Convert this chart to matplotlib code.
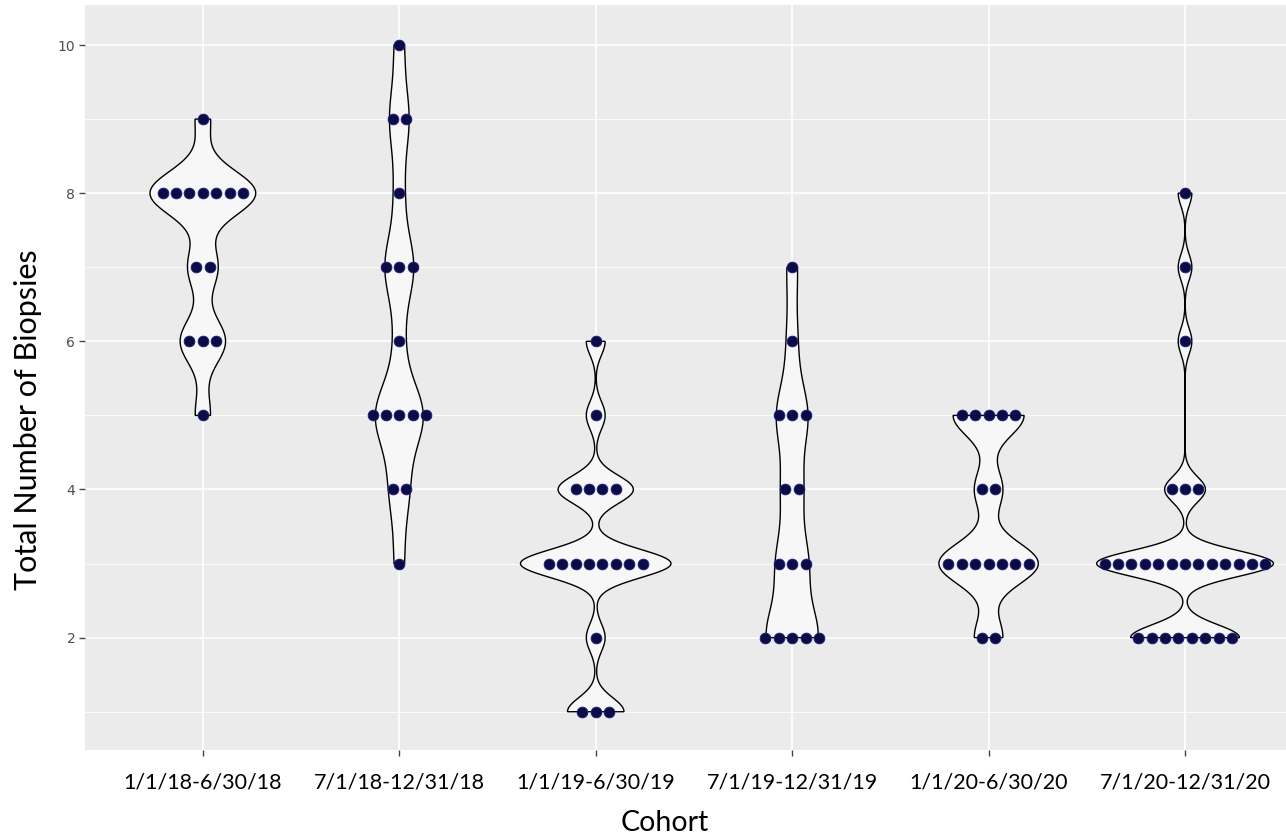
import numpy as np
import matplotlib
matplotlib.use("Agg")
import matplotlib.pyplot as plt
from matplotlib.patches import Polygon

cohorts = ["1/1/18-6/30/18", "7/1/18-12/31/18", "1/1/19-6/30/19",
           "7/1/19-12/31/19", "1/1/20-6/30/20", "7/1/20-12/31/20"]

# value -> count for each cohort
c1_vals = [9, 8, 7, 6, 5];                c1_counts = [1, 7, 2, 3, 1]
c2_vals = [10, 9, 8, 7, 6, 5, 4, 3];      c2_counts = [1, 2, 1, 3, 1, 5, 2, 1]
c3_vals = [6, 5, 4, 3, 2, 1];             c3_counts = [1, 1, 4, 8, 1, 3]
c4_vals = [7, 6, 5, 4, 3, 2];             c4_counts = [1, 1, 3, 2, 3, 5]
c5_vals = [5, 4, 3, 2];                   c5_counts = [5, 2, 7, 2]
c6_vals = [8, 7, 6, 4, 3, 2];             c6_counts = [1, 1, 1, 3, 13, 8]

groups = [(c1_vals, c1_counts), (c2_vals, c2_counts), (c3_vals, c3_counts),
          (c4_vals, c4_counts), (c5_vals, c5_counts), (c6_vals, c6_counts)]

y_ticks = [2, 4, 6, 8, 10]
bw_adjust = 0.5


def bw_nrd0(x):
    hi = np.std(x, ddof=1)
    q75, q25 = np.percentile(x, [75, 25])
    lo = min(hi, (q75 - q25) / 1.34)
    if lo == 0:
        lo = hi if hi > 0 else (abs(x[0]) if x[0] != 0 else 1)
    return 0.9 * lo * len(x) ** (-0.2)


def kde(x, grid):
    bw = bw_nrd0(x) * bw_adjust
    d = np.exp(-0.5 * ((grid[:, None] - x[None, :]) / bw) ** 2).sum(axis=1)
    return d / (len(x) * bw * np.sqrt(2 * np.pi))


dens = []
for vals, counts in groups:
    x = np.repeat(np.array(vals, float), counts)
    grid = np.linspace(x.min(), x.max(), 512)
    dens.append((x, grid, kde(x, grid)))
maxd = max(d.max() for _, _, d in dens)

fig = plt.figure(figsize=(12.86, 8.36), dpi=100)
ax = fig.add_axes([85 / 1286, 86 / 836, 1 - 85 / 1286, (750 - 5) / 836])
ax.set_facecolor("#EBEBEB")
ax.set_xlim(0.4, 6.514)
ax.set_ylim(0.483, 10.54)

for m in [1, 3, 5, 7, 9]:
    ax.axhline(m, color="white", lw=0.6, zorder=0)
for t in y_ticks:
    ax.axhline(t, color="white", lw=1.2, zorder=0)
for i in range(1, 7):
    ax.axvline(i, color="white", lw=1.2, zorder=0)

spacing = 0.0682
for i, ((x, grid, d), (vals, counts)) in enumerate(zip(dens, groups), start=1):
    hw = 0.45 * d / maxd
    xs = np.concatenate([i - hw, (i + hw)[::-1]])
    ys = np.concatenate([grid, grid[::-1]])
    poly = Polygon(np.column_stack([xs, ys]), closed=True, facecolor="#F7F7F7",
                   edgecolor="black", lw=1.0, zorder=2)
    ax.add_patch(poly)
    for v, c in zip(vals, counts):
        offs = (np.arange(c) - (c - 1) / 2) * spacing
        ax.scatter(i + offs, np.full(c, v), s=60, marker="o",
                   facecolor="#0B0B45", edgecolor="#1E1E80", lw=0.6, zorder=3)

ax.set_xticks(range(1, 7))
ax.set_xticklabels(cohorts, family="Lato", fontsize=15.5, color="black")
ax.set_yticks(y_ticks)
ax.set_yticklabels([str(t) for t in y_ticks], fontsize=10, color="#4D4D4D")
ax.tick_params(axis="both", length=4, color="#444444", width=1)
ax.tick_params(axis="x", pad=12)
ax.tick_params(axis="y", pad=3)
for s in ax.spines.values():
    s.set_visible(False)

ax.set_xlabel("Cohort", family="Lato", fontsize=20.5)
ax.xaxis.set_label_coords(0.483, -0.08)
ax.set_ylabel("Total Number of Biopsies", family="Lato", fontsize=22)
ax.yaxis.set_label_coords(-0.036, 0.443)

fig.savefig("out.png", dpi=100)
